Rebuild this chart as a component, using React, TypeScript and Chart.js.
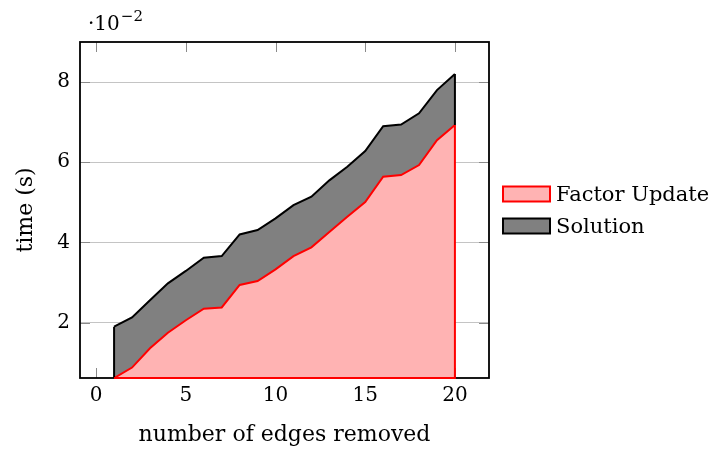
import React, { useEffect, useRef } from 'react';
import { Chart, registerables } from 'chart.js';

Chart.register(...registerables);

// number of edges removed
const edgesRemoved = [1, 2, 3, 4, 5, 6, 7, 8, 9, 10, 11, 12, 13, 14, 15, 16, 17, 18, 19, 20];
// time (s), stacked series
const factorUpdate = [0.0062, 0.0088, 0.0136, 0.0175, 0.0206, 0.0235, 0.0238, 0.0294, 0.0304, 0.0333,
  0.0366, 0.0388, 0.0426, 0.0464, 0.0501, 0.0564, 0.0568, 0.0593, 0.0655, 0.0693];
const solution = [0.0128, 0.0125, 0.0120, 0.0123, 0.0123, 0.0127, 0.0128, 0.0126, 0.0127, 0.0127,
  0.0127, 0.0126, 0.0129, 0.0125, 0.0127, 0.0126, 0.0126, 0.0129, 0.0125, 0.0127];
const seriesNames = ['Factor Update', 'Solution'];
const xTicks = [0, 5, 10, 15, 20];
const xTickLabels = ['0', '5', '10', '15', '20'];
const yTicks = [0.02, 0.04, 0.06, 0.08];
const yTickLabels = ['2', '4', '6', '8'];
const xTitle = 'number of edges removed';
const yTitle = 'time (s)';
const X_MIN = -0.9;
const X_MAX = 21.9;
const Y_MIN = 0.0062;
const Y_MAX = 0.09;

const FONT = '"DejaVu Serif", serif';
const RED = '#ff0000';
const RED_FILL = '#ffb3b3';
const GRAY_FILL = '#808080';
const LW = 2;

const pgfPlugin = {
  id: 'pgfDecor',
  beforeDatasetsDraw(chart: any) {
    const { ctx, chartArea: a, scales } = chart;
    const xs = scales.x;
    const ys = scales.y;
    ctx.save();
    ctx.strokeStyle = '#8a8a8a';
    ctx.lineWidth = 1;
    const tl = 10;
    xTicks.forEach((v) => {
      const px = Math.round(xs.getPixelForValue(v)) + 0.5;
      ctx.beginPath();
      ctx.moveTo(px, a.bottom);
      ctx.lineTo(px, a.bottom - tl);
      ctx.moveTo(px, a.top);
      ctx.lineTo(px, a.top + tl);
      ctx.stroke();
    });
    yTicks.forEach((v) => {
      const py = Math.round(ys.getPixelForValue(v)) + 0.5;
      ctx.beginPath();
      ctx.moveTo(a.left, py);
      ctx.lineTo(a.left + tl, py);
      ctx.moveTo(a.right, py);
      ctx.lineTo(a.right - tl, py);
      ctx.stroke();
    });
    ctx.strokeStyle = '#000';
    ctx.lineWidth = 1.8;
    ctx.strokeRect(a.left, a.top, a.right - a.left, a.bottom - a.top);
    ctx.restore();
  },
  afterDatasetsDraw(chart: any) {
    const { ctx, chartArea: a, scales } = chart;
    const xs = scales.x;
    const ys = scales.y;
    const n = edgesRemoved.length;
    const x0 = xs.getPixelForValue(edgesRemoved[0]);
    const xn = xs.getPixelForValue(edgesRemoved[n - 1]);
    const fTop = ys.getPixelForValue(factorUpdate[n - 1]);
    const tTop = ys.getPixelForValue(factorUpdate[n - 1] + solution[n - 1]);
    const tFirst = ys.getPixelForValue(factorUpdate[0] + solution[0]);
    const fFirst = ys.getPixelForValue(factorUpdate[0]);
    ctx.save();
    ctx.lineWidth = LW;
    ctx.lineCap = 'butt';
    ctx.strokeStyle = '#000';
    ctx.beginPath();
    ctx.moveTo(x0, fFirst);
    ctx.lineTo(x0, tFirst);
    ctx.moveTo(xn, fTop);
    ctx.lineTo(xn, tTop);
    ctx.stroke();
    ctx.strokeStyle = RED;
    ctx.beginPath();
    ctx.moveTo(x0, a.bottom);
    ctx.lineTo(xn, a.bottom);
    ctx.lineTo(xn, fTop);
    ctx.stroke();
    ctx.restore();
  },
  afterDraw(chart: any) {
    const { ctx, chartArea: a } = chart;
    ctx.save();
    ctx.fillStyle = '#000';
    ctx.textBaseline = 'alphabetic';
    ctx.textAlign = 'left';
    ctx.font = `20px ${FONT}`;
    ctx.fillText('·10', a.left + 8, 30);
    const w = ctx.measureText('·10').width;
    ctx.font = `15px ${FONT}`;
    ctx.fillText('−2', a.left + 8 + w + 1, 21);
    const bx = a.right + 14;
    const bw = 47;
    const bh = 15;
    const mid = (a.top + a.bottom) / 2;
    const rows = [
      { y: mid - 16, fill: RED_FILL, stroke: RED, label: seriesNames[0] },
      { y: mid + 16, fill: GRAY_FILL, stroke: '#000', label: seriesNames[1] },
    ];
    rows.forEach((r) => {
      ctx.fillStyle = r.fill;
      ctx.fillRect(bx, r.y - bh / 2, bw, bh);
      ctx.strokeStyle = r.stroke;
      ctx.lineWidth = LW;
      ctx.strokeRect(bx, r.y - bh / 2, bw, bh);
      ctx.fillStyle = '#000';
      ctx.font = `21px ${FONT}`;
      ctx.textBaseline = 'alphabetic';
      ctx.fillText(r.label, bx + bw + 6, r.y + 7);
    });
    ctx.restore();
  },
};

export default function App() {
  const canvasRef = useRef<HTMLCanvasElement | null>(null);

  useEffect(() => {
    document.body.style.margin = '0';
    const canvas = canvasRef.current;
    if (!canvas) return;
    const chart = new Chart(canvas, {
      type: 'line',
      data: {
        datasets: [
          {
            label: seriesNames[0],
            data: edgesRemoved.map((x, i) => ({ x, y: factorUpdate[i] })),
            borderColor: RED,
            backgroundColor: RED_FILL,
            borderWidth: LW,
            pointRadius: 0,
            fill: 'start',
            tension: 0,
          },
          {
            label: seriesNames[1],
            data: edgesRemoved.map((x, i) => ({ x, y: solution[i] })),
            borderColor: '#000',
            backgroundColor: GRAY_FILL,
            borderWidth: LW,
            pointRadius: 0,
            fill: '-1',
            tension: 0,
          },
        ],
      },
      options: {
        animation: false,
        responsive: false,
        devicePixelRatio: 1,
        layout: { padding: { top: 42, right: 226, left: 0, bottom: 0 } },
        plugins: {
          legend: { display: false },
          tooltip: { enabled: false },
        },
        scales: {
          x: {
            type: 'linear',
            min: X_MIN,
            max: X_MAX,
            afterFit: (s: any) => { s.height = 75; },
            afterBuildTicks: (s: any) => { s.ticks = xTicks.map((v) => ({ value: v })); },
            grid: { display: false, drawTicks: false },
            border: { display: false },
            ticks: {
              padding: 6,
              color: '#000',
              font: { family: FONT, size: 20 },
              maxRotation: 0,
              callback: (v: any) => { const i = xTicks.indexOf(Number(v)); return i >= 0 ? xTickLabels[i] : ''; },
            },
            title: {
              display: true,
              text: xTitle,
              color: '#000',
              font: { family: FONT, size: 22 },
              padding: { top: 0, bottom: 5 },
            },
          },
          y: {
            type: 'linear',
            stacked: true,
            min: Y_MIN,
            max: Y_MAX,
            afterFit: (s: any) => { s.width = 80; },
            afterBuildTicks: (s: any) => { s.ticks = yTicks.map((v) => ({ value: v })); },
            grid: { color: '#c4c4c4', lineWidth: 1, drawTicks: false },
            border: { display: false },
            ticks: {
              padding: 10,
              color: '#000',
              font: { family: FONT, size: 20 },
              callback: (v: any) => {
                const i = yTicks.findIndex((t) => Math.abs(t - Number(v)) < 1e-9);
                return i >= 0 ? yTickLabels[i] : '';
              },
            },
            title: {
              display: true,
              text: yTitle,
              color: '#000',
              font: { family: FONT, size: 22 },
              padding: { top: 13, bottom: 0 },
            },
          },
        },
      },
      plugins: [pgfPlugin],
    } as any);
    return () => chart.destroy();
  }, []);

  return (
    <div style={{ position: 'absolute', left: 0, top: 0, width: 715, height: 453, background: '#fff' }}>
      <canvas ref={canvasRef} width={715} height={453} style={{ width: 715, height: 453, display: 'block' }} />
    </div>
  );
}
